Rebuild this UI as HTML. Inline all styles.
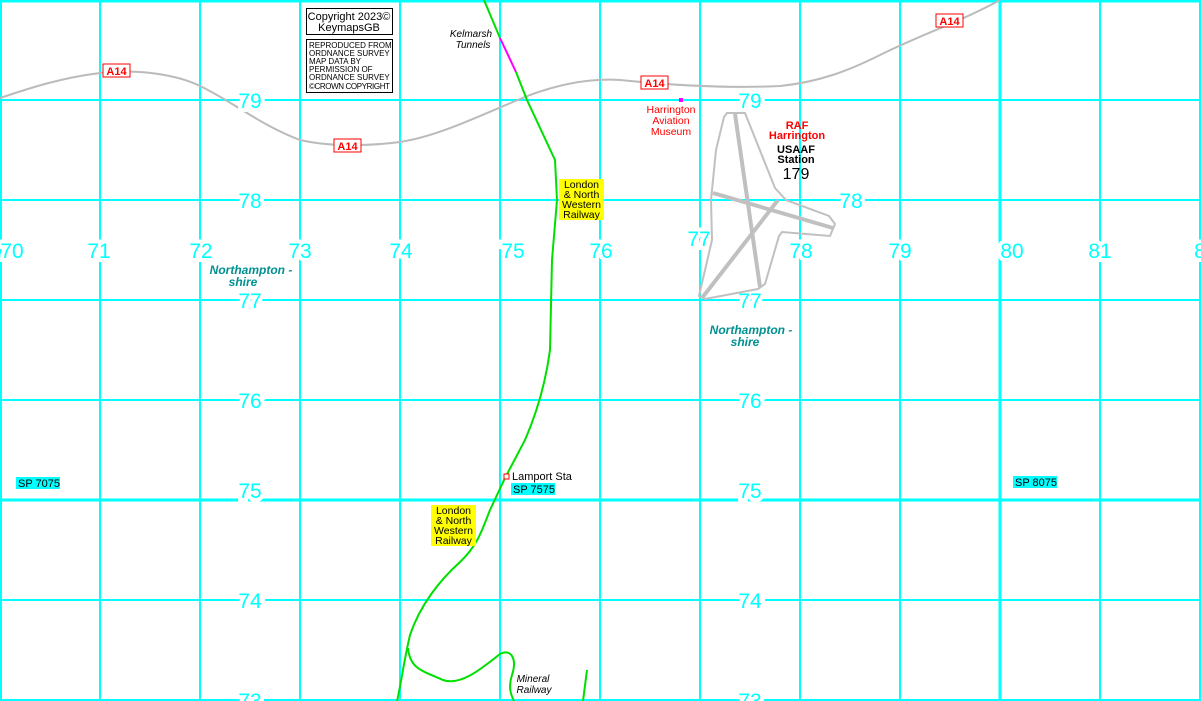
<!DOCTYPE html>
<html><head><meta charset="utf-8"><style>
html,body{margin:0;padding:0;background:#fff;width:1201px;height:701px;overflow:hidden}
svg{display:block}
.g{font-family:"Liberation Sans",sans-serif;font-size:21px;fill:#00ffff;text-anchor:middle;stroke:#fff;stroke-width:8px;paint-order:stroke}
.s{font-family:"Liberation Sans",sans-serif;font-size:11px}
</style></head><body>
<svg width="1201" height="701" viewBox="0 0 1201 701" xmlns="http://www.w3.org/2000/svg">
<g stroke="#00ffff" stroke-width="2" fill="none" shape-rendering="crispEdges">
<path d="M1 0V701M100 0V701M200 0V701M300 0V701M400 0V701M500 0V701M600 0V701M700 0V701M800 0V701M900 0V701M1100 0V701M1200 0V701"/>
<path d="M0 100H1201M0 200H1201M0 300H1201M0 400H1201M0 600H1201M0 700H1201"/>
<path d="M1000 0V701M0 500H1201M0 1H1201" stroke-width="3"/>
</g>
<path d="M0 98 C30 88 60 78 100 73 C140 68 180 76 200 86 C230 100 260 125 300 140 C330 147 370 146 400 142 C440 136 480 115 530 95 C560 84 590 78 620 80 C660 84 720 89 780 86 C820 82 850 70 880 55 C920 35 960 22 1000 0" stroke="#bbb" stroke-width="2" fill="none"/>
<path d="M484 0 L500 38" stroke="#00e000" stroke-width="2" fill="none"/>
<path d="M500 38 L516 72" stroke="#ff00ff" stroke-width="2" fill="none"/>
<path d="M516 72 L527 100 L555 160 L557 200 L552 260 L550 350 C546 380 538 410 525 440 L505 478 L490 510 C482 530 478 545 460 562 C440 580 420 605 410 635 C404 660 400 690 397 701" stroke="#00e000" stroke-width="2" fill="none"/>
<path d="M408 648 C410 668 420 670 443 680 C460 686 480 670 500 654 C512 648 517 660 512 675 C508 688 511 695 514 701" stroke="#00e000" stroke-width="2" fill="none"/>
<path d="M587 670 L583 701" stroke="#00e000" stroke-width="2" fill="none"/>
<rect x="504" y="474" width="5" height="5" fill="#fff" stroke="red" stroke-width="1"/>
<g class="g">
<text x="12" y="258">70</text><text x="99" y="258">71</text><text x="201" y="258">72</text><text x="300" y="258">73</text><text x="401" y="258">74</text><text x="513" y="258">75</text><text x="601" y="258">76</text><text x="699" y="246">77</text><text x="801" y="258">78</text><text x="900" y="258">79</text><text x="1012" y="258">80</text><text x="1100" y="258">81</text><text x="1200" y="258">8</text>
<text x="250" y="108">79</text><text x="250" y="208">78</text><text x="250" y="308">77</text><text x="250" y="408">76</text><text x="250" y="498">75</text><text x="250" y="608">74</text><text x="250" y="708">73</text>
<text x="750" y="108">79</text><text x="851" y="208">78</text><text x="750" y="308">77</text><text x="750" y="408">76</text><text x="750" y="498">75</text><text x="750" y="608">74</text><text x="750" y="708">73</text>
</g>
<path d="M727 113 L745 113 L775 188 L786 200 L829 216 L835 224 L830 236 L782 232 L779 236 L765 284 L758 289 L705 299 L699 296 L712 240 L711 200 L716 150 L724 117 Z" fill="none" stroke="#c0c0c0" stroke-width="2"/>
<g stroke="#c0c0c0" stroke-width="4">
<path d="M735 114 L760 287"/><path d="M713 193 L833 228"/><path d="M702 298 L778 200"/>
</g>
<g font-family="Liberation Sans,sans-serif" font-size="11" font-weight="bold" fill="red">
<rect x="103" y="64" width="27" height="13" fill="#fff" stroke="red"/><text x="116.5" y="75" text-anchor="middle">A14</text>
<rect x="334" y="139" width="27" height="13" fill="#fff" stroke="red"/><text x="347.5" y="150" text-anchor="middle">A14</text>
<rect x="641" y="76" width="27" height="13" fill="#fff" stroke="red"/><text x="654.5" y="87" text-anchor="middle">A14</text>
<rect x="936" y="14" width="27" height="13" fill="#fff" stroke="red"/><text x="949.5" y="25" text-anchor="middle">A14</text>
</g>
<rect x="306.5" y="8.5" width="86" height="26" fill="#fff" stroke="#000"/>
<text x="349" y="20" class="s" text-anchor="middle">Copyright 2023©</text>
<text x="349" y="31" class="s" text-anchor="middle">KeymapsGB</text>
<rect x="306.5" y="39.5" width="86" height="53" fill="#fff" stroke="#000"/>
<g font-family="Liberation Sans,sans-serif" font-size="8" fill="#000">
<text x="309" y="48">REPRODUCED FROM</text><text x="309" y="56">ORDNANCE SURVEY</text><text x="309" y="64">MAP DATA BY</text><text x="309" y="72">PERMISSION OF</text><text x="309" y="80">ORDNANCE SURVEY</text><text x="309" y="89" textLength="81">©CROWN COPYRIGHT</text>
</g>
<g font-family="Liberation Sans,sans-serif" font-size="10" font-style="italic" text-anchor="middle">
<text x="471" y="37">Kelmarsh</text><text x="473" y="48">Tunnels</text>
<text x="533" y="682">Mineral</text><text x="534" y="693">Railway</text>
</g>
<g font-family="Liberation Sans,sans-serif" font-size="12" font-style="italic" font-weight="bold" fill="#009090" text-anchor="middle">
<text x="251" y="274">Northampton -</text><text x="243" y="286">shire</text>
<text x="751" y="334">Northampton -</text><text x="745" y="346">shire</text>
</g>
<rect x="559" y="179" width="45" height="41" fill="#ffff00"/>
<g font-family="Liberation Sans,sans-serif" font-size="10.5" text-anchor="middle">
<text x="581.5" y="188">London</text><text x="581.5" y="198">&amp; North</text><text x="581.5" y="208">Western</text><text x="581.5" y="218">Railway</text>
</g>
<rect x="431" y="505" width="45" height="41" fill="#ffff00"/>
<g font-family="Liberation Sans,sans-serif" font-size="10.5" text-anchor="middle">
<text x="453.5" y="514">London</text><text x="453.5" y="524">&amp; North</text><text x="453.5" y="534">Western</text><text x="453.5" y="544">Railway</text>
</g>
<text x="512" y="480" class="s">Lamport Sta</text>
<rect x="16" y="477" width="44" height="12" fill="#00ffff"/><text x="18" y="487" class="s">SP 7075</text>
<rect x="511" y="483" width="44" height="12" fill="#00ffff"/><text x="513" y="493" class="s">SP 7575</text>
<rect x="1013" y="476" width="44" height="12" fill="#00ffff"/><text x="1015" y="486" class="s">SP 8075</text>
<rect x="679" y="98" width="4" height="4" fill="#ff00ff"/>
<g font-family="Liberation Sans,sans-serif" font-size="10.5" fill="red" text-anchor="middle">
<text x="671" y="113">Harrington</text><text x="671" y="124">Aviation</text><text x="671" y="135">Museum</text>
</g>
<g font-family="Liberation Sans,sans-serif" font-weight="bold" text-anchor="middle">
<text x="797" y="129" font-size="11" fill="red">RAF</text>
<text x="797" y="139" font-size="11" fill="red">Harrington</text>
<text x="796" y="153" font-size="11">USAAF</text>
<text x="796" y="163" font-size="11">Station</text>
<text x="796" y="179" font-size="16" font-weight="normal">179</text>
</g>
</svg>
</body></html>
